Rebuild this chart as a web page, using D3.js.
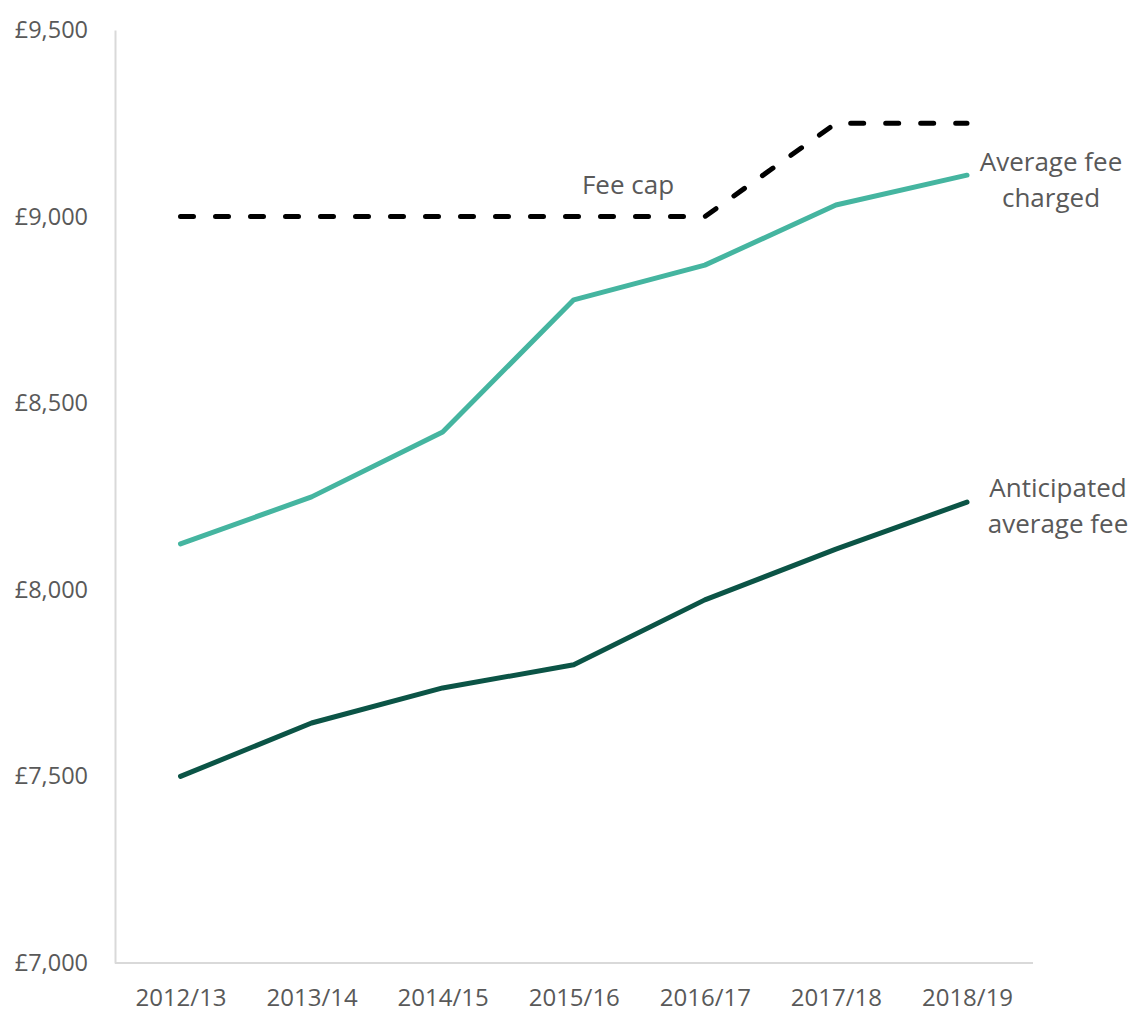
<!DOCTYPE html>
<html>
<head>
<meta charset="utf-8">
<script src="https://cdn.jsdelivr.net/npm/d3@7"></script>
<style>
  html, body { margin: 0; padding: 0; background: #fff; }
  svg { display: block; font-family: "Open Sans", "Noto Sans", sans-serif; }
</style>
</head>
<body>
<svg id="chart" width="1131" height="1012"></svg>
<script>
// Academic years
const years = ["2012/13", "2013/14", "2014/15", "2015/16", "2016/17", "2017/18", "2018/19"];
// Tuition fee values (£)
const feeCap = [9000, 9000, 9000, 9000, 9000, 9250, 9250];
const averageCharged = [8123, 8249, 8423, 8777, 8870, 9031, 9111];
const anticipatedAverage = [7500, 7643, 7737, 7799, 7973, 8109, 8235];
// Y-axis ticks
const yTicks = [7000, 7500, 8000, 8500, 9000, 9500];

const svg = d3.select("#chart");
const margin = { left: 115, right: 98, top: 30, bottom: 49 };
const W = 1131, H = 1012;

const x = d3.scalePoint()
  .domain(years)
  .range([margin.left + 65.5, W - margin.right - 66])
  .padding(0);

const y = d3.scaleLinear()
  .domain([7000, 9500])
  .range([H - margin.bottom, margin.top]);

const textColor = "#595959";
const axisColor = "#d9d9d9";

// Y axis
const yAxis = svg.append("g")
  .attr("transform", `translate(${margin.left},0)`)
  .call(d3.axisLeft(y).tickValues(yTicks).tickSize(0).tickPadding(27)
    .tickFormat(d => "£" + d3.format(",")(d)));
yAxis.select(".domain").attr("stroke", axisColor).attr("stroke-width", 2);
yAxis.selectAll("text").attr("fill", textColor).style("font-size", "23.5px")
  .style("font-family", "'Open Sans', sans-serif");

// X axis
const xAxis = svg.append("g")
  .attr("transform", `translate(0,${H - margin.bottom})`)
  .call(d3.axisBottom(x).tickSize(0).tickPadding(26));
xAxis.select(".domain")
  .attr("d", `M${margin.left},0H${W - margin.right}`)
  .attr("stroke", axisColor).attr("stroke-width", 2);
xAxis.selectAll("text").attr("fill", textColor).style("font-size", "24px")
  .style("font-family", "'Open Sans', sans-serif");

// Series lines
const line = d3.line().x((d, i) => x(years[i])).y(d => y(d));

svg.append("path").datum(averageCharged)
  .attr("d", line).attr("fill", "none")
  .attr("stroke", "#45b5a0").attr("stroke-width", 5)
  .attr("stroke-linecap", "round").attr("stroke-linejoin", "round");

svg.append("path").datum(anticipatedAverage)
  .attr("d", line).attr("fill", "none")
  .attr("stroke", "#0b5446").attr("stroke-width", 5)
  .attr("stroke-linecap", "round").attr("stroke-linejoin", "round");

svg.append("path").datum(feeCap)
  .attr("d", line).attr("fill", "none")
  .attr("stroke", "#000").attr("stroke-width", 5)
  .attr("stroke-dasharray", "13,22")
  .attr("stroke-linecap", "round").attr("stroke-linejoin", "round");

// Series labels
function label(lines, cx, cy) {
  const t = svg.append("text")
    .attr("text-anchor", "middle")
    .attr("fill", textColor)
    .style("font-size", "26px");
  lines.forEach((s, i) => {
    t.append("tspan").attr("x", cx).attr("y", cy + i * 36).text(s);
  });
}
label(["Fee cap"], 628, 194);
label(["Average fee", "charged"], 1051, 171);
label(["Anticipated", "average fee"], 1058, 497);
</script>
</body>
</html>
